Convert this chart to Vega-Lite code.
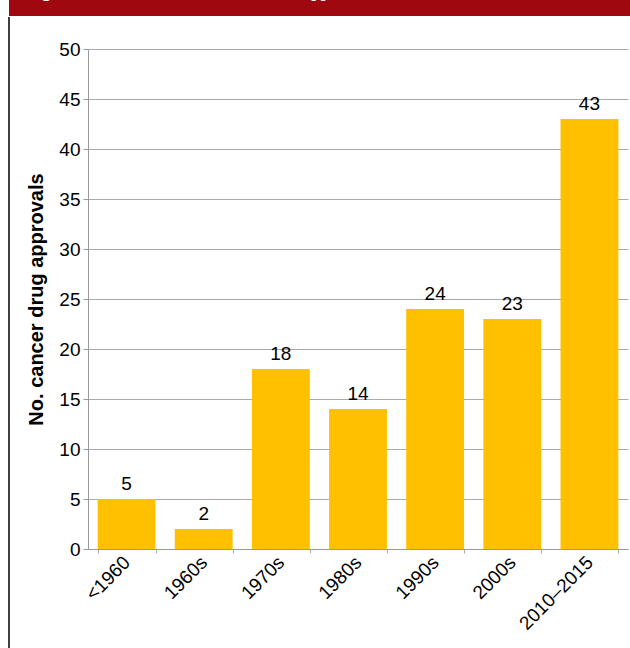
{
  "$schema": "https://vega.github.io/schema/vega-lite/v6.json",
  "padding": {"left": 8, "top": 0, "right": 0, "bottom": 0},
  "background": "white",
  "spacing": 0,
  "config": {
    "font": "Liberation Sans",
    "view": {"stroke": null},
    "concat": {"spacing": 0}
  },
  "vconcat": [
    {
      "width": 622,
      "height": 16,
      "view": {"fill": "#a0080f", "stroke": null},
      "data": {"values": [{"t": "Figure 1. Number of new FDA cancer approvals"}]},
      "mark": {"type": "text", "clip": true, "align": "left", "baseline": "alphabetic", "dx": -293, "dy": -11, "font": "Liberation Serif", "fontSize": 17, "fontWeight": "bold", "color": "white"},
      "encoding": {"text": {"field": "t"}}
    },
    {
      "spacing": 16,
      "hconcat": [
        {
          "width": 1,
          "height": 500,
          "data": {"values": [{"pos": 0, "top": 532, "bottom": -100}]},
          "mark": {"type": "rule", "color": "black", "strokeWidth": 1.5},
          "encoding": {
            "x": {"field": "pos", "type": "quantitative", "scale": {"domain": [0, 1]}, "axis": null},
            "y": {"field": "top", "type": "quantitative", "scale": {"domain": [0, 500], "nice": false, "zero": false}, "axis": null},
            "y2": {"field": "bottom"}
          }
        },
        {
          "width": 540,
          "height": 500,
          "title": {"text": " ", "fontSize": 20, "offset": 3},
          "data": {"values": [
            {"decade": "<1960", "approvals": 5},
            {"decade": "1960s", "approvals": 2},
            {"decade": "1970s", "approvals": 18},
            {"decade": "1980s", "approvals": 14},
            {"decade": "1990s", "approvals": 24},
            {"decade": "2000s", "approvals": 23},
            {"decade": "2010–2015", "approvals": 43}
          ]},
          "encoding": {
            "x": {
              "field": "decade", "type": "nominal", "sort": null,
              "scale": {"paddingInner": 0.25, "paddingOuter": 0.125},
              "axis": {
                "title": null, "labelAngle": -45, "labelAlign": "right", "labelBaseline": "middle",
                "labelFontSize": 19, "labelColor": "black", "labelPadding": 6,
                "tickBand": "extent", "tickColor": "#aaaaaa", "tickSize": 4,
                "domainColor": "#999999", "grid": false
              }
            },
            "y": {
              "field": "approvals", "type": "quantitative",
              "scale": {"domain": [0, 50], "nice": false},
              "axis": {
                "title": "No. cancer drug approvals", "titleFontSize": 20, "titleFontWeight": "bold",
                "titleColor": "black", "titlePadding": 12,
                "values": [0, 5, 10, 15, 20, 25, 30, 35, 40, 45, 50],
                "labelFontSize": 19, "labelColor": "black", "labelPadding": 3,
                "tickColor": "#999999", "tickSize": 5, "domainColor": "#999999",
                "gridColor": "#aaaaaa", "gridWidth": 1
              }
            }
          },
          "layer": [
            {"mark": {"type": "bar", "color": "#ffc000"}},
            {
              "mark": {"type": "text", "baseline": "bottom", "dy": -5, "fontSize": 19, "color": "black"},
              "encoding": {"text": {"field": "approvals", "type": "quantitative"}}
            }
          ]
        }
      ]
    }
  ]
}
